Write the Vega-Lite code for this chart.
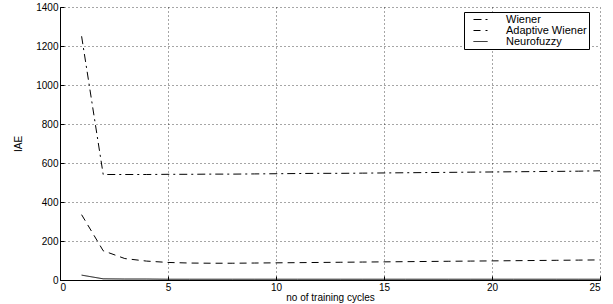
{
  "$schema": "https://vega.github.io/schema/vega-lite/v6.json",
  "width": 540,
  "height": 273,
  "autosize": "none",
  "padding": {"left": 60, "top": 7, "right": 13, "bottom": 24},
  "background": "white",
  "config": {
    "view": {"stroke": null},
    "font": "Liberation Sans",
    "axis": {"labelFont": "Liberation Sans", "titleFont": "Liberation Sans", "labelColor": "black", "titleColor": "black", "domainColor": "black", "tickColor": "black", "gridColor": "black", "gridDash": [1, 3], "gridOpacity": 1, "gridWidth": 0.7, "labelFontSize": 10, "titleFontSize": 10, "titleFontWeight": "normal"}
  },
  "data": {"values": [
    {"x": 1, "s": "Wiener", "y": 1250}, {"x": 2, "s": "Wiener", "y": 541}, {"x": 3, "s": "Wiener", "y": 541}, {"x": 4, "s": "Wiener", "y": 541}, {"x": 5, "s": "Wiener", "y": 542}, {"x": 6, "s": "Wiener", "y": 542}, {"x": 7, "s": "Wiener", "y": 543}, {"x": 8, "s": "Wiener", "y": 543}, {"x": 9, "s": "Wiener", "y": 544}, {"x": 10, "s": "Wiener", "y": 545}, {"x": 11, "s": "Wiener", "y": 546}, {"x": 12, "s": "Wiener", "y": 547}, {"x": 13, "s": "Wiener", "y": 547}, {"x": 14, "s": "Wiener", "y": 548}, {"x": 15, "s": "Wiener", "y": 549}, {"x": 16, "s": "Wiener", "y": 550}, {"x": 17, "s": "Wiener", "y": 551}, {"x": 18, "s": "Wiener", "y": 552}, {"x": 19, "s": "Wiener", "y": 553}, {"x": 20, "s": "Wiener", "y": 554}, {"x": 21, "s": "Wiener", "y": 555}, {"x": 22, "s": "Wiener", "y": 556}, {"x": 23, "s": "Wiener", "y": 557}, {"x": 24, "s": "Wiener", "y": 558}, {"x": 25, "s": "Wiener", "y": 560},
    {"x": 1, "s": "Adaptive Wiener", "y": 335}, {"x": 2, "s": "Adaptive Wiener", "y": 150}, {"x": 3, "s": "Adaptive Wiener", "y": 110}, {"x": 4, "s": "Adaptive Wiener", "y": 97}, {"x": 5, "s": "Adaptive Wiener", "y": 90}, {"x": 6, "s": "Adaptive Wiener", "y": 87}, {"x": 7, "s": "Adaptive Wiener", "y": 86}, {"x": 8, "s": "Adaptive Wiener", "y": 86}, {"x": 9, "s": "Adaptive Wiener", "y": 87}, {"x": 10, "s": "Adaptive Wiener", "y": 88}, {"x": 11, "s": "Adaptive Wiener", "y": 89}, {"x": 12, "s": "Adaptive Wiener", "y": 90}, {"x": 13, "s": "Adaptive Wiener", "y": 91}, {"x": 14, "s": "Adaptive Wiener", "y": 92}, {"x": 15, "s": "Adaptive Wiener", "y": 93}, {"x": 16, "s": "Adaptive Wiener", "y": 94}, {"x": 17, "s": "Adaptive Wiener", "y": 95}, {"x": 18, "s": "Adaptive Wiener", "y": 96}, {"x": 19, "s": "Adaptive Wiener", "y": 97}, {"x": 20, "s": "Adaptive Wiener", "y": 98}, {"x": 21, "s": "Adaptive Wiener", "y": 99}, {"x": 22, "s": "Adaptive Wiener", "y": 100}, {"x": 23, "s": "Adaptive Wiener", "y": 101}, {"x": 24, "s": "Adaptive Wiener", "y": 102}, {"x": 25, "s": "Adaptive Wiener", "y": 103},
    {"x": 1, "s": "Neurofuzzy", "y": 25}, {"x": 2, "s": "Neurofuzzy", "y": 6}, {"x": 3, "s": "Neurofuzzy", "y": 5}, {"x": 4, "s": "Neurofuzzy", "y": 5}, {"x": 5, "s": "Neurofuzzy", "y": 4}, {"x": 6, "s": "Neurofuzzy", "y": 4}, {"x": 7, "s": "Neurofuzzy", "y": 4}, {"x": 8, "s": "Neurofuzzy", "y": 4}, {"x": 9, "s": "Neurofuzzy", "y": 4}, {"x": 10, "s": "Neurofuzzy", "y": 4}, {"x": 11, "s": "Neurofuzzy", "y": 4}, {"x": 12, "s": "Neurofuzzy", "y": 4}, {"x": 13, "s": "Neurofuzzy", "y": 4}, {"x": 14, "s": "Neurofuzzy", "y": 4}, {"x": 15, "s": "Neurofuzzy", "y": 4}, {"x": 16, "s": "Neurofuzzy", "y": 4}, {"x": 17, "s": "Neurofuzzy", "y": 4}, {"x": 18, "s": "Neurofuzzy", "y": 4}, {"x": 19, "s": "Neurofuzzy", "y": 4}, {"x": 20, "s": "Neurofuzzy", "y": 4}, {"x": 21, "s": "Neurofuzzy", "y": 4}, {"x": 22, "s": "Neurofuzzy", "y": 4}, {"x": 23, "s": "Neurofuzzy", "y": 4}, {"x": 24, "s": "Neurofuzzy", "y": 4}, {"x": 25, "s": "Neurofuzzy", "y": 4}
  ]},
  "mark": {"type": "line", "color": "black", "strokeWidth": 1, "clip": true},
  "encoding": {
    "x": {"field": "x", "type": "quantitative", "scale": {"domain": [0, 25], "nice": false}, "axis": {"values": [0, 5, 10, 15, 20, 25], "format": "d", "title": "no of training cycles", "titlePadding": 0, "tickSize": -4, "labelPadding": 6, "grid": true}},
    "y": {"field": "y", "type": "quantitative", "scale": {"domain": [0, 1400], "nice": false}, "axis": {"values": [0, 200, 400, 600, 800, 1000, 1200, 1400], "format": "d", "title": "IAE", "titlePadding": 12, "tickSize": -4, "labelPadding": 6, "grid": true}},
    "strokeDash": {"field": "s", "type": "nominal", "scale": {"domain": ["Wiener", "Adaptive Wiener", "Neurofuzzy"], "range": [[8, 4, 2, 4], [7, 5], [1, 0]]}, "legend": {"title": null, "orient": "none", "legendX": 404, "legendY": 5, "strokeColor": "black", "fillColor": "white", "padding": 2, "symbolType": "M-1.4,0H1.4", "symbolSize": 100, "symbolOffset": 9, "symbolStrokeWidth": 1, "symbolStrokeColor": "black", "labelFontSize": 11, "labelFont": "Liberation Sans", "rowPadding": -2, "labelOffset": 20}}
  }
}
